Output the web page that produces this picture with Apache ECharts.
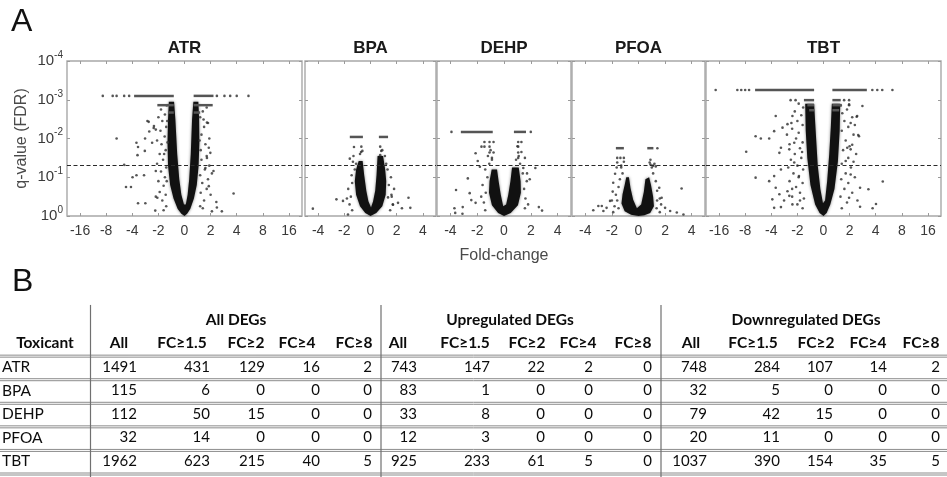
<!DOCTYPE html>
<html><head><meta charset="utf-8">
<script src="https://cdn.jsdelivr.net/npm/echarts@6/dist/echarts.min.js"></script>
<style>html,body{margin:0;padding:0;background:#fff}#c{width:947px;height:477px}</style>
</head><body><div id="c"></div>
<script>
// ---------- Panel A : volcano plots (x = log2 fold-change, y = -log10 q) ----------
const panelNames = ['ATR','BPA','DEHP','PFOA','TBT'];
const bigTickLabels = ['-16','-8','-4','-2','0','2','4','8','16'];
const smallTickLabels = ['-4','-2','0','2','4'];
const yExponents = ['0','-1','-2','-3','-4'];
const qCutoff = 0.05;

// dense core outline of each volcano
const atrCore = [[0,0],[-0.12,0.06],[-0.26,0.18],[-0.42,0.45],[-0.55,0.8],[-0.63,1.3],[-0.65,1.9],[-0.63,2.5],[-0.6,2.95],[-0.4,2.95],[-0.35,2.5],[-0.28,1.6],[-0.2,0.95],[-0.12,0.55],[-0.02,0.3],[0.05,0.3],[0.12,0.55],[0.18,0.95],[0.24,1.6],[0.29,2.5],[0.34,2.95],[0.53,2.95],[0.56,2.5],[0.57,1.9],[0.54,1.3],[0.47,0.8],[0.36,0.45],[0.22,0.18],[0.1,0.06]];
const bpaCore = [[0,0],[-0.2,0.08],[-0.4,0.25],[-0.55,0.55],[-0.6,0.9],[-0.55,1.2],[-0.45,1.42],[-0.3,1.42],[-0.24,1.05],[-0.16,0.65],[-0.08,0.38],[0.02,0.22],[0.1,0.38],[0.18,0.65],[0.23,1.05],[0.27,1.55],[0.48,1.55],[0.56,1.2],[0.6,0.9],[0.58,0.55],[0.45,0.25],[0.22,0.08]];
const dehpCore = [[0,0],[-0.22,0.08],[-0.45,0.28],[-0.56,0.6],[-0.54,0.9],[-0.46,1.2],[-0.26,1.2],[-0.2,0.9],[-0.12,0.55],[-0.03,0.25],[0.08,0.3],[0.16,0.55],[0.24,0.9],[0.3,1.25],[0.55,1.25],[0.62,0.9],[0.63,0.6],[0.52,0.28],[0.25,0.08]];
const pfoaCore = [[0,0],[-0.28,0.03],[-0.52,0.12],[-0.64,0.32],[-0.6,0.56],[-0.52,0.8],[-0.46,1.0],[-0.36,1.0],[-0.3,0.72],[-0.2,0.42],[-0.06,0.2],[0.1,0.3],[0.2,0.62],[0.26,0.95],[0.4,1.0],[0.47,0.8],[0.55,0.5],[0.58,0.25],[0.44,0.08],[0.22,0.02]];
const tbtCore = [[0,0],[-0.15,0.08],[-0.32,0.3],[-0.5,0.8],[-0.62,1.5],[-0.68,2.2],[-0.7,2.9],[-0.36,2.9],[-0.3,2.2],[-0.22,1.3],[-0.12,0.7],[-0.02,0.33],[0.06,0.4],[0.14,0.9],[0.22,1.6],[0.28,2.3],[0.32,2.9],[0.64,2.9],[0.62,2.2],[0.55,1.4],[0.42,0.7],[0.26,0.3],[0.12,0.08]];

// saturated q-value rows: [fromX, toX, y]
const atrRows = [[-1.93,-0.41,3.1],[0.35,1.11,3.1],[-1.04,-0.41,2.86],[0.35,1.08,2.86],[-0.62,-0.41,2.67],[0.35,0.6,2.67]];
const bpaRows = [[-0.79,-0.29,2.04],[0.32,0.67,2.04]];
const dehpRows = [[-1.61,-0.42,2.17],[0.37,0.82,2.17]];
const pfoaRows = [[-0.85,-0.55,1.75],[0.33,0.56,1.75]];
const tbtRows = [[-2.62,-0.36,3.25],[0.34,1.66,3.25],[-0.75,-0.36,2.99],[0.34,0.66,2.99],[-0.62,-0.36,2.86],[0.34,0.7,2.86],[-0.55,-0.36,2.73],[0.34,0.6,2.73]];

// fuzzy points around the arms
const atrHalo = [[-0.7,0.25],[-0.85,0.4],[-0.72,0.55],[-0.95,0.62],[-0.8,0.78],[-1.0,0.9],[-0.75,1.0],[-0.9,1.15],[-0.7,1.25],[-1.05,1.35],[-0.82,1.45],[-0.95,1.6],[-0.72,1.7],[-0.88,1.85],[-1.05,1.95],[-0.76,2.05],[-0.92,2.2],[-0.7,2.3],[-0.85,2.45],[-1.0,2.55],[-0.75,2.62],[-0.9,2.75],[-0.68,2.85],[-0.8,0.15],[-0.65,1.9],[-0.68,0.9],[-1.1,0.5],[-0.78,1.6],[-0.66,2.45],[0.6,0.25],[0.75,0.4],[0.62,0.6],[0.85,0.7],[0.68,0.85],[0.9,0.95],[0.6,1.05],[0.78,1.2],[0.95,1.3],[0.65,1.45],[0.85,1.55],[0.62,1.7],[0.8,1.85],[0.95,2.0],[0.65,2.1],[0.75,2.3],[0.9,2.4],[0.6,2.55],[0.7,2.7],[0.85,2.8],[1.05,1.1],[0.58,1.95],[0.7,0.2],[1.0,0.55]];
const bpaHalo = [[-0.7,0.15],[-0.8,0.3],[-0.75,0.5],[-0.85,0.7],[-0.7,0.85],[-0.72,1.05],[-0.6,1.2],[-0.55,1.35],[-0.65,1.55],[-0.4,1.6],[-0.9,0.45],[0.75,0.15],[0.85,0.3],[0.8,0.55],[0.7,0.8],[0.78,1.0],[0.65,1.2],[0.6,1.35],[0.55,1.55],[0.45,1.7],[0.9,0.7]];
const dehpHalo = [[-0.7,0.15],[-0.75,0.35],[-0.68,0.6],[-0.8,0.8],[-0.62,1.0],[-0.7,1.2],[-0.55,1.35],[-0.6,1.55],[-0.45,1.45],[-0.85,0.5],[-0.5,1.7],[0.78,0.2],[0.8,0.45],[0.75,0.7],[0.85,0.9],[0.7,1.1],[0.6,1.35],[0.55,1.55],[0.65,1.65],[0.45,1.45],[0.9,0.3],[0.5,1.8]];
const pfoaHalo = [[-0.95,0.1],[-0.9,0.25],[-1.0,0.4],[-0.85,0.55],[-0.75,0.75],[-0.7,0.95],[-0.6,1.1],[-0.65,1.25],[-0.55,1.4],[-0.75,0.2],[-0.8,0.4],[0.8,0.1],[0.85,0.3],[0.8,0.45],[0.7,0.65],[0.65,0.9],[0.55,1.1],[0.5,1.25],[0.6,1.35],[0.45,1.45],[0.68,0.2],[0.7,0.4]];
const tbtHalo = [[-0.8,0.2],[-1.0,0.3],[-0.75,0.45],[-1.2,0.5],[-0.9,0.6],[-1.05,0.75],[-0.8,0.85],[-1.3,0.9],[-0.95,1.0],[-1.15,1.1],[-0.78,1.2],[-1.0,1.3],[-1.25,1.45],[-0.85,1.5],[-1.1,1.6],[-0.9,1.75],[-1.3,1.85],[-0.8,1.9],[-1.05,2.0],[-0.95,2.15],[-1.2,2.25],[-0.8,2.35],[-1.0,2.45],[-0.85,2.6],[-1.1,2.7],[-0.78,2.8],[-0.95,2.9],[-1.35,1.25],[-1.2,0.7],[-0.9,0.4],[-0.82,1.65],[-1.4,2.1],[0.7,0.2],[0.9,0.35],[0.65,0.5],[1.1,0.6],[0.8,0.7],[0.95,0.85],[0.68,0.95],[1.2,1.0],[0.85,1.1],[1.05,1.25],[0.7,1.35],[0.95,1.5],[1.25,1.6],[0.75,1.7],[1.0,1.8],[0.85,1.95],[1.15,2.1],[0.7,2.2],[0.95,2.3],[0.8,2.45],[1.1,2.55],[0.72,2.65],[0.9,2.75],[1.2,2.35],[0.66,2.85],[1.3,0.4],[1.15,1.4]];

// isolated genes
const atrPoints = [[-2.6,2.0],[-1.84,1.89],[-1.42,2.45],[-1.35,2.18],[-1.17,2.32],[-1.1,2.23],[-1.51,2.0],[-1.8,1.57],[-1.52,1.68],[-1.78,1.78],[-2.31,1.32],[-1.99,1.0],[-1.84,1.05],[-1.55,1.05],[-2.24,0.75],[-2.05,0.75],[-1.78,0.33],[-1.5,0.33],[-1.24,1.89],[-1.1,1.16],[-1.04,0.47],[-1.12,0.14],[1.88,0.58],[1.05,0.12],[1.24,0.22],[1.43,0.12],[0.99,1.63],[0.93,1.76],[0.86,1.5],[0.8,1.24],[0.86,2.41],[0.73,2.49],[1.11,1.16],[0.93,0.77],[1.22,0.36],[-1.37,2.43],[-1.18,2.27],[-3.13,3.1],[-2.75,3.1],[-2.6,3.1],[-2.31,3.1],[-2.12,3.1],[1.24,3.1],[1.53,3.1],[1.75,3.1],[2.0,3.1],[2.45,3.1]];
const bpaPoints = [[-2.2,0.19],[-1.3,0.43],[-1.05,0.39],[-0.86,0.04],[-0.79,1.48],[-0.67,1.4],[-0.63,1.78],[-0.36,1.65],[0.86,0.29],[1.05,0.34],[1.2,0.2],[1.45,0.47],[1.52,0.21],[0.81,0.5],[0.67,0.48],[-0.35,1.79],[-0.31,1.68],[0.37,1.79],[0.41,1.68],[0.37,1.57]];
const dehpPoints = [[-1.85,0.2],[-1.79,0.67],[-1.35,0.97],[-1.28,0.59],[-1.22,0.41],[-1.54,0.23],[-1.06,1.62],[-0.9,1.27],[-0.84,1.79],[-1.82,0.08],[-1.55,0.06],[-1.06,0.34],[-0.98,1.42],[1.3,0.23],[1.42,0.14],[1.17,1.24],[0.86,1.1],[0.72,1.24],[0.78,1.5],[0.96,0.95],[-1.96,2.17],[1.0,2.17],[-0.73,1.91],[-0.54,1.91],[-0.39,1.91],[0.53,1.91],[0.65,1.91],[-0.73,1.79],[-0.54,1.79],[0.53,1.79],[-0.54,1.64],[-0.39,1.64],[0.53,1.64],[0.53,1.5],[-0.45,1.5]];
const pfoaPoints = [[-1.7,0.15],[-1.51,0.26],[-1.38,0.26],[-1.32,0.13],[-1.2,0.21],[-1.07,0.39],[-0.97,0.63],[-0.95,0.86],[-0.88,1.09],[-0.82,1.25],[1.62,0.71],[1.0,0.21],[1.19,0.13],[1.44,0.09],[1.69,0.04],[0.87,0.47],[0.78,0.73],[0.71,1.75],[-0.8,1.5],[-0.68,1.5],[-0.55,1.5],[-0.8,1.38],[-0.65,1.3],[0.45,1.33],[0.55,1.3],[0.65,1.28],[0.42,1.38]];
const tbtPoints = [[-2.96,1.66],[-2.6,2.06],[-2.4,2.0],[-2.08,2.0],[-1.83,2.58],[-1.89,2.19],[-1.57,2.28],[-1.38,2.37],[-1.19,2.58],[-1.23,2.4],[-1.63,1.76],[-1.69,1.63],[-1.31,1.72],[-1.12,1.89],[-2.6,0.99],[-2.08,0.9],[-1.89,1.03],[-1.83,0.73],[-1.63,1.2],[-1.69,0.56],[-1.38,0.64],[-1.96,0.43],[-1.51,0.4],[-1.31,0.52],[-1.63,0.23],[-1.89,0.21],[-1.19,0.3],[-0.94,1.03],[-1.12,1.38],[1.49,2.84],[1.29,2.58],[1.04,2.4],[0.98,2.88],[1.36,2.06],[1.1,1.84],[1.04,1.72],[0.91,1.76],[0.85,1.42],[1.04,1.07],[1.4,0.73],[1.72,0.69],[2.27,0.89],[2.01,0.31],[1.88,0.2],[1.4,0.24],[0.98,0.47],[1.33,2.09],[1.27,2.56],[-4.13,3.25],[-3.3,3.25],[-3.15,3.25],[-3.0,3.25],[-2.85,3.25],[1.87,3.25],[2.06,3.25],[2.25,3.25],[2.64,3.25],[-1.26,2.99],[-1.07,2.99],[0.79,2.99],[0.98,2.99],[0.98,2.86]];

// ---------- Panel B : table ----------
const toxicants = ['ATR','BPA','DEHP','PFOA','TBT'];
const tableGroups = ['All DEGs','Upregulated DEGs','Downregulated DEGs'];
const tableCols = ['All','FC≥1.5','FC≥2','FC≥4','FC≥8'];
const allDEGs  = [[1491,431,129,16,2],[115,6,0,0,0],[112,50,15,0,0],[32,14,0,0,0],[1962,623,215,40,5]];
const upDEGs   = [[743,147,22,2,0],[83,1,0,0,0],[33,8,0,0,0],[12,3,0,0,0],[925,233,61,5,0]];
const downDEGs = [[748,284,107,14,2],[32,5,0,0,0],[79,42,15,0,0],[20,11,0,0,0],[1037,390,154,35,5]];

// ---------- layout (style, not data) ----------
const FONT = 'Liberation Sans, Arial, sans-serif';
const TFONT = 'Lato, Carlito, sans-serif';
const plotTop = 61, plotH = 155;
const boxes = [[67,235],[305,131],[437,134],[572,133],[706,235]];
const panelSets = [
  {core: atrCore, rows: atrRows, halo: atrHalo, pts: atrPoints, ticks: bigTickLabels},
  {core: bpaCore, rows: bpaRows, halo: bpaHalo, pts: bpaPoints, ticks: smallTickLabels},
  {core: dehpCore, rows: dehpRows, halo: dehpHalo, pts: dehpPoints, ticks: smallTickLabels},
  {core: pfoaCore, rows: pfoaRows, halo: pfoaHalo, pts: pfoaPoints, ticks: smallTickLabels},
  {core: tbtCore, rows: tbtRows, halo: tbtHalo, pts: tbtPoints, ticks: bigTickLabels}
];
const tickPos = t => t === '0' ? 0 : Math.sign(+t) * Math.log2(Math.abs(+t));
// table column anchors in table-axis units
const groupCenterX = [236, 510, 806];
const headerCenterX = [[119,182,246,297,354],[398,465,527,578,633],[691,753,816,868,921]];
const valueRightX = [[137,210,265,320,372],[417,490,545,593,652],[707,780,833,887,940]];
const dividerX = [90.5, 381, 661];

const grids = [], xAxes = [], yAxes = [], series = [];
const tickLine = {color:'#9a9a9a', width:1};
const noLine = {show:false, onZero:false};

panelSets.forEach((P, i) => {
  const [left, width] = boxes[i];
  grids.push({left, width, top: plotTop, height: plotH, show: true, borderColor: '#a8a8a8', borderWidth: 1.4, backgroundColor: '#fff'});
  const pos = P.ticks.map(tickPos);
  const half = P.ticks === bigTickLabels ? 4.5 : 2.5;
  xAxes.push({type:'value', gridIndex:i, min:-half, max:half, position:'bottom',
    axisLine: noLine, splitLine:{show:false},
    axisTick:{show:true, inside:true, length:3, customValues: pos, lineStyle: tickLine},
    axisLabel:{show:true, customValues: pos, margin:8, fontSize:14, color:'#3a3a3a', fontFamily: FONT,
      formatter: v => P.ticks[pos.indexOf(v)] ?? ''},
    name: i === 2 ? 'Fold-change' : '', nameLocation:'middle', nameGap:32,
    nameTextStyle:{fontSize:16, color:'#4a4a4a', fontFamily: FONT}});
  xAxes.push({type:'value', gridIndex:i, min:-half, max:half, position:'top',
    axisLine: noLine, splitLine:{show:false},
    axisTick:{show:true, inside:true, length:3, customValues: pos, lineStyle: tickLine},
    axisLabel:{show:false},
    name: panelNames[i], nameLocation:'middle', nameGap:4,
    nameTextStyle:{fontSize:17, fontWeight:'bold', color:'#1a1a1a', fontFamily: FONT}});
  yAxes.push({type:'value', gridIndex:i, min:0, max:4, interval:1, position:'left',
    axisLine: noLine, splitLine:{show:false},
    axisTick:{show:true, inside:true, length:3, lineStyle: tickLine},
    axisLabel:{show: i === 0, margin:4, formatter: v => '{b|10}{s|' + yExponents[v] + '}',
      rich:{ b:{fontSize:15, lineHeight:22, color:'#3a3a3a', fontFamily: FONT},
             s:{fontSize:10, lineHeight:10, verticalAlign:'top', color:'#3a3a3a', fontFamily: FONT} }},
    name: i === 0 ? 'q-value (FDR)' : '', nameLocation:'middle', nameGap:37, nameRotate:90,
    nameTextStyle:{fontSize:16, color:'#4a4a4a', fontFamily: FONT}});
  yAxes.push({type:'value', gridIndex:i, min:0, max:4, interval:1, position:'right',
    axisLine: noLine, splitLine:{show:false},
    axisTick:{show:true, inside:true, length:3, lineStyle: tickLine}, axisLabel:{show:false}});

  const ax = {xAxisIndex: 2*i, yAxisIndex: 2*i};
  const core = P.core;
  series.push(Object.assign({type:'custom', silent:true, z:2, data:[[0,0]],
    renderItem: (p, api) => ({type:'polygon', shape:{points: core.map(c => api.coord(c))},
      style:{fill:'#111', shadowBlur:3, shadowColor:'rgba(0,0,0,0.5)'}})}, ax));
  series.push(Object.assign({type:'scatter', silent:true, z:3, data: P.halo, symbolSize:2.6,
    itemStyle:{color:'#3c3c3c', opacity:0.85}}, ax));
  series.push(Object.assign({type:'scatter', silent:true, z:4, data: P.pts, symbolSize:2.6,
    itemStyle:{color:'#2c2c2c'},
    markLine:{silent:true, symbol:'none', label:{show:false},
      lineStyle:{type:[4,2.5], color:'#2a2a2a', width:1},
      data:[{yAxis: -Math.log10(qCutoff)}]}}, ax));
  series.push(Object.assign({type:'custom', silent:true, z:4, data: P.rows, encode:{x:[0,1], y:2},
    renderItem: (p, api) => {
      const a = api.coord([api.value(0), api.value(2)]), b = api.coord([api.value(1), api.value(2)]);
      return {type:'line', shape:{x1:a[0], y1:a[1], x2:b[0], y2:b[1]}, style:{stroke:'#555', lineWidth:2.5}};
    }}, ax));
});

// ---------- table grid ----------
const T = panelSets.length;          // grid index of the table
const TA = xAxes.length;             // axis index of the table
grids.push({left:0, width:947, top:308, height:165, show:false});
xAxes.push({type:'value', gridIndex:T, min:0, max:947, show:false});
yAxes.push({type:'value', gridIndex:T, min:0, max:7, inverse:true, show:false});

const cells = [];
tableGroups.forEach((g, k) => cells.push({x: groupCenterX[k], y: 0.5, text: g, align:'center', bold:true}));
cells.push({x: 45, y: 1.5, text: 'Toxicant', align:'center', bold:true});
[allDEGs, upDEGs, downDEGs].forEach((block, k) => {
  tableCols.forEach((c, j) => cells.push({x: headerCenterX[k][j], y: 1.5, text: c, align:'center', bold:true}));
  block.forEach((row, r) => row.forEach((v, j) =>
    cells.push({x: valueRightX[k][j], y: r + 2.5, text: String(v), align:'right'})));
});
toxicants.forEach((t, r) => cells.push({x: 2, y: r + 2.5, text: t, align:'left', name:true}));

series.push({type:'custom', silent:true, xAxisIndex:TA, yAxisIndex:TA, z:5, clip:false,
  data: cells.map(c => [c.x, c.y]),
  renderItem: (p, api) => {
    const c = cells[p.dataIndex];
    const pt = api.coord([c.x, c.y]);
    return {type:'text', x: pt[0], y: pt[1], style:{text: c.text, align: c.align, verticalAlign:'middle',
      fontSize: c.bold ? 15.5 : (c.name ? 15.5 : 15), fontWeight: c.bold ? 'bold' : 'normal',
      fontFamily: TFONT, fill:'#0c0c0c'}};
  }});

const tableLines = [];
for (let r = 2; r <= 7; r++) { tableLines.push([0, r, 947, r, 0]); tableLines.push([0, r, 947, r, 2]); }
dividerX.forEach(x => tableLines.push([x, -0.13, x, 7.2, 0]));
series.push({type:'custom', silent:true, xAxisIndex:TA, yAxisIndex:TA, z:4, clip:false,
  data: tableLines,
  renderItem: (p, api) => {
    const a = api.coord([api.value(0), api.value(1)]), b = api.coord([api.value(2), api.value(3)]);
    const off = api.value(4);
    const vertical = a[0] === b[0];
    return {type:'line', shape:{x1:a[0], y1:a[1]+off, x2:b[0], y2:b[1]+off},
      style:{stroke: vertical ? '#707070' : '#8c8c8c', lineWidth: vertical ? 1.2 : 1}};
  }});

const chart = echarts.init(document.getElementById('c'), null, {renderer:'canvas'});
chart.setOption({
  animation:false,
  backgroundColor:'#fff',
  grid: grids, xAxis: xAxes, yAxis: yAxes, series,
  graphic: [
    {type:'text', left:11, top:6, style:{text:'A', fontSize:32, fill:'#111', fontFamily: FONT}},
    {type:'text', left:12, top:266, style:{text:'B', fontSize:32, fill:'#111', fontFamily: FONT}}
  ]
});
</script></body></html>
